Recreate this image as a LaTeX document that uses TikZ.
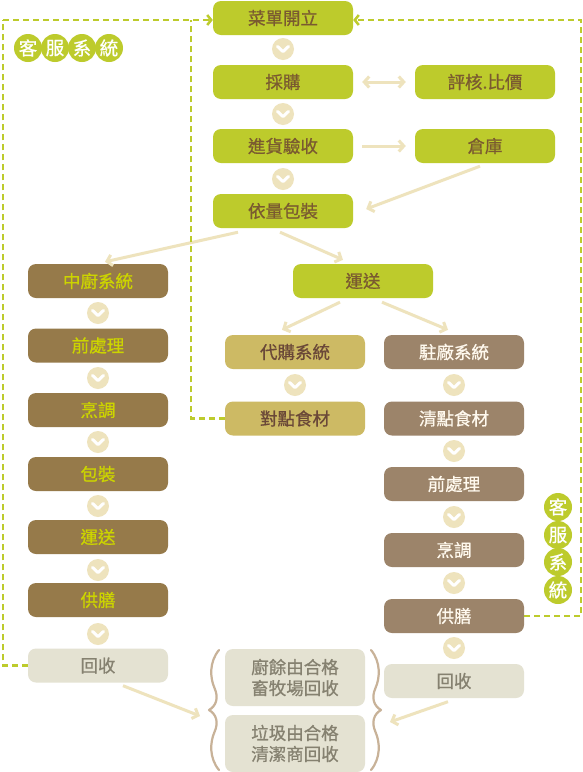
\documentclass[tikz,border=0pt]{standalone}
\usepackage{fontspec}
\setmainfont{Noto Sans CJK TC}[FakeBold=0.8]
\usetikzlibrary{arrows.meta,calc}
\definecolor{cgreen}{HTML}{BDCB2C}
\definecolor{cgtext}{HTML}{7A5A30}
\definecolor{cbrown}{HTML}{967A4A}
\definecolor{cbtext}{HTML}{CCD400}
\definecolor{ckhaki}{HTML}{CDBA64}
\definecolor{cktext}{HTML}{6A4838}
\definecolor{cmocha}{HTML}{9C846A}
\definecolor{cmtext}{HTML}{FFF9EE}
\definecolor{cgray}{HTML}{E4E2D2}
\definecolor{cgrtext}{HTML}{858170}
\definecolor{cpale}{HTML}{EEE3BD}
\definecolor{cbrace}{HTML}{C8B298}
\begin{document}
\begin{tikzpicture}[x=1pt,y=-1pt,
 box/.style={rounded corners=8pt, minimum width=140pt, minimum height=34pt, inner sep=0pt, align=center, font=\fontsize{17.5}{21}\selectfont},
 gbox/.style={box, fill=cgreen, text=cgtext},
 bbox/.style={box, fill=cbrown, text=cbtext},
 kbox/.style={box, fill=ckhaki, text=cktext},
 mbox/.style={box, fill=cmocha, text=cmtext},
 rbox/.style={box, fill=cgray, text=cgrtext},
 chev/.style={circle, fill=cpale, minimum size=22pt, inner sep=0pt,
   path picture={\draw[white, line width=3pt, line cap=round, line join=round]
     ([shift={(-5.5pt,2.6pt)}]path picture bounding box.center) -- ++(5.5pt,-5.2pt) -- ++(5.5pt,5.2pt);}},
 arr/.style={draw=cpale, line width=3pt, -{Straight Barb[length=5pt,width=11pt]}},
 dsh/.style={draw=cgreen, line width=2.5pt, dash pattern=on 6pt off 4pt},
 ksf/.style={circle, fill=cgreen, text=white, minimum size=28pt, inner sep=0pt, font=\fontsize{18.5}{18.5}\selectfont},
 bracestyle/.style={draw=cbrace, line width=2.2pt, line cap=round, line join=round},
]
\fill[white] (0,0) rectangle (583,772);

% coordinates for dashed feedback loops
\coordinate (lc) at (3,20);
\coordinate (mc) at (191,20);
\coordinate (rc) at (581,20);

% main column
\node[gbox] (menu) at (283,18) {菜單開立};
\node[chev] (c1) at (283,49) {};
\node[gbox] (buy) at (283,82) {採購};
\node[chev] (c2) at (283,114) {};
\node[gbox] (recv) at (283,146) {進貨驗收};
\node[chev] (c3) at (283,179) {};
\node[gbox] (pack) at (283,211) {依量包裝};
\node[gbox] (eval) at (485,82) {評核.比價};
\node[gbox] (store) at (485,146) {倉庫};
\node[gbox] (ship) at (363,281) {運送};

% left column
\node[bbox] (ckit) at (98,281) {中廚系統};
\node[chev] (l1) at (98,313) {};
\node[bbox] (lpre) at (98,345.5) {前處理};
\node[chev] (l2) at (98,378) {};
\node[bbox] (lcook) at (98,410) {烹調};
\node[chev] (l3) at (98,442) {};
\node[bbox] (lpack) at (98,474) {包裝};
\node[chev] (l4) at (98,506) {};
\node[bbox] (lship) at (98,537) {運送};
\node[chev] (l5) at (98,570) {};
\node[bbox] (lsup) at (98,600) {供膳};
\node[chev] (l6) at (98,634) {};
\node[rbox] (lrec) at (98,665.5) {回收};

% middle column
\node[kbox] (dai) at (295,352) {代購系統};
\node[chev] (m1) at (295,385) {};
\node[kbox] (dui) at (295,418.5) {對點食材};

% right column
\node[mbox] (zhu) at (454,352) {駐廠系統};
\node[chev] (r1) at (454,385) {};
\node[mbox] (qing) at (454,418.5) {清點食材};
\node[chev] (r2) at (454,451) {};
\node[mbox] (rpre) at (454,484) {前處理};
\node[chev] (r3) at (454,517) {};
\node[mbox] (rcook) at (454,550) {烹調};
\node[chev] (r4) at (454,583) {};
\node[mbox] (rsup) at (454,616) {供膳};
\node[chev] (r5) at (454,648) {};
\node[rbox] (rrec) at (454,681) {回收};

% bottom boxes
\node[rbox, minimum height=57pt] (waste) at (295,677.5) {廚餘由合格\\畜牧場回收};
\node[rbox, minimum height=57pt] (garb) at (295,743.5) {垃圾由合格\\清潔商回收};

% braces
\coordinate (lbt) at (209,710);
\coordinate (rbt) at (381,710);
\draw[bracestyle] (219,650) .. controls (209,662) and (210,678) .. (214.5,688)
  .. controls (219,698) and (216,706) .. (lbt)
  .. controls (216,714) and (219,722) .. (214.5,732)
  .. controls (210,742) and (209,758) .. (219,770);
\draw[bracestyle] (371,650) .. controls (381,662) and (380,678) .. (375.5,688)
  .. controls (371,698) and (374,706) .. (rbt)
  .. controls (374,714) and (371,722) .. (375.5,732)
  .. controls (380,742) and (381,758) .. (371,770);

% solid pale arrows
\draw[arr, {Straight Barb[length=5pt,width=11pt]}-{Straight Barb[length=5pt,width=11pt]}] ([xshift=9pt]buy.east) -- ([xshift=-9pt]eval.west);
\draw[arr] ([xshift=9pt]recv.east) -- ([xshift=-9pt]store.west);
\draw[arr] ([shift={(-5pt,-3pt)}]store.south) -- ([shift={(13pt,2pt)}]pack.east);
\draw[arr] ([shift={(-45pt,-4pt)}]pack.south) -- ([shift={(7pt,2pt)}]ckit.north);
\draw[arr] ([shift={(-3pt,-4pt)}]pack.south) -- ([shift={(-20pt,4pt)}]ship.north);
\draw[arr] ([shift={(-23pt,-4pt)}]ship.south) -- ([shift={(-13pt,5pt)}]dai.north);
\draw[arr] ([shift={(19pt,-4pt)}]ship.south) -- ([shift={(-6pt,5pt)}]zhu.north);
\draw[arr] ([shift={(25pt,-3pt)}]lrec.south) -- ([shift={(-9pt,-6pt)}]lbt);
\draw[arr] ([shift={(-6pt,-3.5pt)}]rrec.south) -- ([shift={(9pt,-12pt)}]rbt);

% dashed feedback loops
\draw[dsh] (lrec.west) -| (lc);
\draw[dsh] (dui.west) -| (mc);
\draw[dsh, -{Straight Barb[length=4pt,width=10pt]}] (lc) -- ([yshift=-2pt]menu.west);
\draw[dsh, -{Straight Barb[length=4pt,width=10pt]}] (rsup.east) -| (rc) -- ([yshift=-2pt]menu.east);

% customer service labels
\node[ksf] (k1) at (28,48) {客};
\node[ksf] (k2) at (55,48) {服};
\node[ksf] (k3) at (82,48) {系};
\node[ksf] (k4) at (109,48) {統};
\node[ksf] (q1) at (558,507) {客};
\node[ksf] (q2) at (558,535) {服};
\node[ksf] (q3) at (558,562) {系};
\node[ksf] (q4) at (558,590) {統};
\end{tikzpicture}
\end{document}
